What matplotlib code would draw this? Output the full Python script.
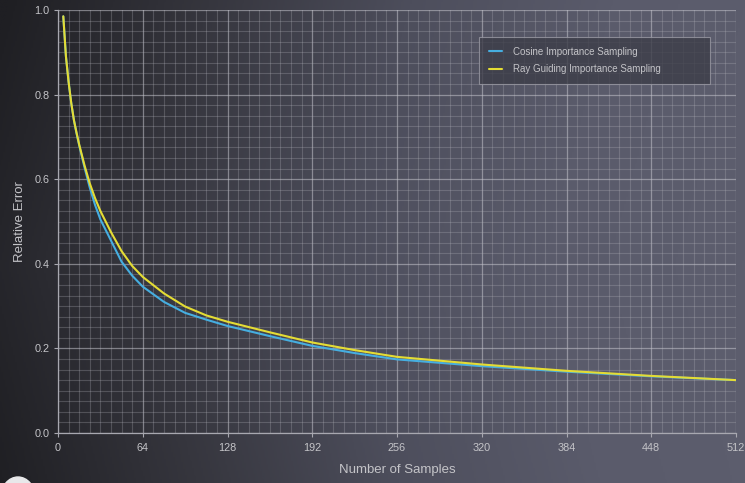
import numpy as np
import matplotlib
matplotlib.use("Agg")
import matplotlib.pyplot as plt
from matplotlib.colors import LinearSegmentedColormap
from matplotlib.ticker import MultipleLocator
from matplotlib.patches import Ellipse

plt.rcParams['font.family'] = ['Liberation Sans', 'DejaVu Sans']

# Sample counts and relative error for both sampling strategies
samples = [4, 6, 8, 10, 12, 14, 16, 20, 24, 28, 32, 40, 48, 56, 64, 80, 96,
           112, 128, 160, 192, 224, 256, 320, 384, 448, 512]
cosine_err = [0.985, 0.890, 0.830, 0.780, 0.740, 0.708, 0.680, 0.628, 0.580,
              0.539, 0.505, 0.455, 0.405, 0.372, 0.346, 0.310, 0.284, 0.268,
              0.253, 0.229, 0.206, 0.189, 0.174, 0.158, 0.145, 0.134, 0.125]
guided_err = [0.985, 0.890, 0.830, 0.780, 0.740, 0.710, 0.682, 0.633, 0.590,
              0.555, 0.525, 0.475, 0.430, 0.395, 0.369, 0.330, 0.299, 0.278,
              0.263, 0.238, 0.214, 0.196, 0.180, 0.162, 0.147, 0.135, 0.125]
series_names = ["Cosine Importance Sampling", "Ray Guiding Importance Sampling"]
x_ticks = [0, 64, 128, 192, 256, 320, 384, 448, 512]
y_ticks = [0.0, 0.2, 0.4, 0.6, 0.8, 1.0]

W, H = 745, 483
fig = plt.figure(figsize=(W / 100, H / 100), dpi=100)

# Dark slate background that brightens toward the right
bg = fig.add_axes([0, 0, 1, 1], zorder=-10)
cmap = LinearSegmentedColormap.from_list(
    "slate", ["#1f1f23", "#36363e", "#4d4e5c", "#5a5b6b", "#5d5e6e"])
gx = np.linspace(0, 1, 400)
gy = np.linspace(0, 1, 260)
GX, GY = np.meshgrid(gx, gy)
grad = GX * 0.92 + 0.08 * (1 - np.abs(GY - 0.45) * 2)
bg.imshow(grad, cmap=cmap, aspect='auto', extent=[0, 1, 0, 1],
          origin='lower', vmin=0, vmax=1)
bg.set_axis_off()
bg.add_patch(Ellipse((18 / W, -14 / H), 34 / W, 40 / H, color='#e8e8ea',
                     transform=bg.transAxes, clip_on=True))

ax = fig.add_axes([58 / W, 1 - 433 / H, 678 / W, 423 / H])
ax.set_facecolor('none')

ax.plot(samples, cosine_err, color='#46aee0', lw=1.5, label=series_names[0],
        solid_capstyle='round', zorder=3)
ax.plot(samples, guided_err, color='#e4dc34', lw=1.5, label=series_names[1],
        solid_capstyle='round', zorder=4)

ax.set_xlim(0, 512)
ax.set_ylim(0, 1.0)
ax.set_xticks(x_ticks)
ax.set_yticks(y_ticks)
ax.set_yticklabels([f"{v:.1f}" for v in y_ticks])
ax.xaxis.set_minor_locator(MultipleLocator(8))
ax.yaxis.set_minor_locator(MultipleLocator(0.025))

ax.grid(which='major', color='#c4c4cc', alpha=0.55, lw=0.9)
ax.grid(which='minor', color='#b4b4bc', alpha=0.28, lw=0.8)
ax.set_axisbelow(True)

for side in ['top', 'right']:
    ax.spines[side].set_visible(False)
for side in ['left', 'bottom']:
    ax.spines[side].set_color('#a8a8b0')
    ax.spines[side].set_linewidth(0.9)

ax.tick_params(which='major', colors='#a8a8b0', length=3, width=0.8,
               labelsize=7.8, labelcolor='#c4c4c8', pad=3)
ax.tick_params(axis='x', which='major', pad=4)
ax.tick_params(which='minor', length=0)

ax.set_xlabel("Number of Samples", fontsize=9.5, color='#c4c4c8', labelpad=8)
ax.set_ylabel("Relative Error", fontsize=9.5, color='#c4c4c8', labelpad=6)

# Legend box spans a fixed width, entries kept to its left side
leg_x0, leg_x1 = (479 - 58) / 678, (710 - 58) / 678
leg_y1 = (433 - 37) / 423
leg = ax.legend(loc='upper left', bbox_to_anchor=(leg_x0, leg_y1 - 0.2,
                                                   leg_x1 - leg_x0, 0.2),
                mode='expand', fontsize=7.0, frameon=True, handlelength=1.4,
                borderpad=1.0, labelspacing=0.8, handletextpad=1.1,
                borderaxespad=0)
leg.get_frame().set_facecolor('#3c3d48')
leg.get_frame().set_alpha(0.8)
leg.get_frame().set_edgecolor('#9a9aa4')
leg.get_frame().set_linewidth(0.8)
leg.get_frame().set_boxstyle('square', pad=0)
for t in leg.get_texts():
    t.set_color('#c4c4c8')

fig.savefig("out.png", dpi=100)
